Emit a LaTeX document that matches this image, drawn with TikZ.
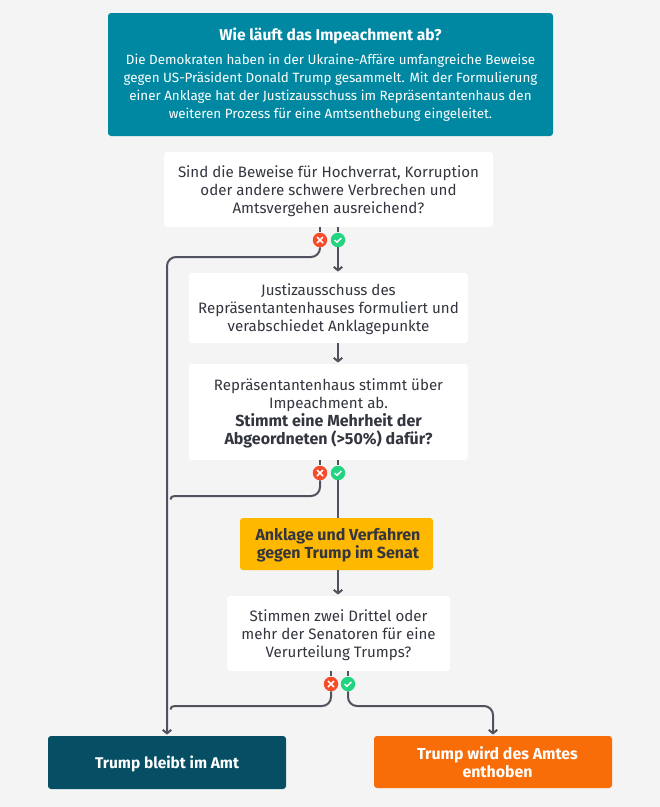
\documentclass[tikz,border=0pt]{standalone}
\usepackage{fontspec}
\setmainfont{Fira Sans}
\usetikzlibrary{arrows.meta,calc}
\definecolor{bgc}{HTML}{F4F4F4}
\definecolor{linec}{HTML}{50525F}
\definecolor{tealc}{HTML}{0088A2}
\definecolor{darkc}{HTML}{064E63}
\definecolor{orangec}{HTML}{F96D08}
\definecolor{yellowc}{HTML}{FFB800}
\definecolor{redc}{HTML}{F64A29}
\definecolor{greenc}{HTML}{22D47F}
\definecolor{textc}{HTML}{33353F}
\newcommand{\dn}{\rule{0pt}{15pt}}
\newcommand{\bq}[1]{{\fontsize{16}{18}\selectfont\bfseries #1}}
\tikzset{
  x=1pt,y=-1pt,
  box/.style={rounded corners=3pt,inner sep=0pt,align=center,text=textc,font=\fontsize{15.1}{18}\selectfont},
  qbox/.style={box,fill=white},
  ybox/.style={box,fill=yellowc,font=\fontsize{16}{18}\selectfont\bfseries},
  endbox/.style={box,text=white,font=\fontsize{15.5}{18}\selectfont\bfseries},
  conn/.style={draw=linec,line width=2pt,rounded corners=9pt},
  stub/.style={draw=linec,line width=2pt},
  arr/.style={-{Straight Barb[length=3.5pt,width=8.5pt,line width=2pt]},shorten >=1.2pt},
  noicon/.style={circle,fill=redc,minimum size=14.5pt,inner sep=0pt},
  yesicon/.style={circle,fill=greenc,minimum size=14.5pt,inner sep=0pt},
  iconmark/.style={draw=white,line width=1.5pt},
}
\newcommand{\xmark}[1]{\draw[iconmark] ($(#1)+(-3,-3)$) -- ($(#1)+(3,3)$) ($(#1)+(3,-3)$) -- ($(#1)+(-3,3)$);}
\newcommand{\cmark}[1]{\draw[iconmark] ($(#1)+(-3.3,0.2)$) -- ($(#1)+(-1,2.2)$) -- ($(#1)+(3.4,-2)$);}
\begin{document}
\begin{tikzpicture}
\useasboundingbox[fill=bgc] (0,0) rectangle (660,807);
\node[box,fill=tealc,text=white,minimum width=445pt,minimum height=123pt,font=\fontsize{13.4}{18}\selectfont] (intro) at (330.5,74.5)
  {{\fontsize{15.6}{18}\selectfont\bfseries Wie läuft das Impeachment ab?}\\[5.5pt]
   Die Demokraten haben in der Ukraine-Affäre umfangreiche Beweise\\
   gegen US-Präsident Donald Trump gesammelt. Mit der Formulierung\\
   einer Anklage hat der Justizausschuss im Repräsentantenhaus den\\
   weiteren Prozess für eine Amtsenthebung eingeleitet.};
\node[qbox,minimum width=329pt,minimum height=75pt] (q1) at (328.5,189.5)
  {\dn Sind die Beweise für Hochverrat, Korruption\\oder andere schwere Verbrechen und\\Amtsvergehen ausreichend?};
\node[qbox,minimum width=279pt,minimum height=70pt] (q2) at (328.5,308)
  {\dn Justizausschuss des\\Repräsentantenhauses formuliert und\\verabschiedet Anklagepunkte};
\node[qbox,minimum width=279pt,minimum height=96pt] (q3) at (328.5,412)
  {\dn Repräsentantenhaus stimmt über\\Impeachment ab.\\\bq{Stimmt eine Mehrheit der}\\\bq{Abgeordneten (>50\%) dafür?}};
\node[ybox,minimum width=193pt,minimum height=52pt] (senat) at (336.5,544)
  {\dn\hspace*{3pt}Anklage und Verfahren\\\hspace*{3pt}gegen Trump im Senat};
\node[qbox,minimum width=223pt,minimum height=75pt] (q4) at (338.5,633.5)
  {\dn Stimmen zwei Drittel oder\\mehr der Senatoren für eine\\Verurteilung Trumps?};
\node[endbox,fill=darkc,minimum width=238pt,minimum height=53pt] (stay) at (167,762.5) {\rule{0pt}{16pt}Trump bleibt im Amt};
\node[endbox,fill=orangec,minimum width=238pt,minimum height=52pt,font=\fontsize{15.9}{18}\selectfont\bfseries] (out) at (493,762) {\rule{0pt}{14pt}\hspace*{9pt}Trump wird des Amtes\\\hspace*{9pt}enthoben};

\node[noicon] (n1) at (320,240) {};
\node[yesicon] (y1) at (338,240) {};
\node[noicon] (n2) at (320,473) {};
\node[yesicon] (y2) at (338,473) {};
\node[noicon] (n3) at (331,684) {};
\node[yesicon] (y3) at (348,684) {};
\xmark{n1}\cmark{y1}\xmark{n2}\cmark{y2}\xmark{n3}\cmark{y3}

\coordinate (m1) at (167,257);
\coordinate (b2) at (320,496);
\coordinate (h2) at (175,496);
\coordinate (m2) at (170.5,499.5);
\coordinate (b3) at (331,706);
\coordinate (h3) at (175,706);
\coordinate (m3) at (170.5,709.5);
\coordinate (b3y) at (348,706);

% stubs
\draw[stub] (n1 |- q1.south) -- ++(0,4.5);
\draw[stub] (y1 |- q1.south) -- ++(0,4.5);
\draw[stub] (n2 |- q3.south) -- ++(0,4.5);
\draw[stub] (y2 |- q3.south) -- ++(0,4.5);
\draw[stub] (n3 |- q4.south) -- ++(0,4.5);
\draw[stub] (y3 |- q4.south) -- ++(0,4.5);

% connectors
\draw[conn,arr] (n1.south) |- (m1) -- (stay.north);
\draw[conn,arr] (y1.south) -- (y1 |- q2.north);
\draw[conn,arr] (q2.south -| y1) -- (q3.north -| y1);
\draw[conn] (n2.south) -- (b2) [sharp corners] -- (h2);
\draw[stub] (h2) .. controls (172,496) and (170.5,497) .. (m2);
\draw[stub] (y2.south) -- (y2 |- senat.north);
\draw[conn,arr] (senat.south -| y2) -- (q4.north -| y2);
\draw[conn] (n3.south) -- (b3) [sharp corners] -- (h3);
\draw[stub] (h3) .. controls (172,706) and (170.5,707) .. (m3);
\draw[conn,arr] (y3.south) -- (b3y) -- (b3y -| out.north) -- (out.north);
\end{tikzpicture}
\end{document}
